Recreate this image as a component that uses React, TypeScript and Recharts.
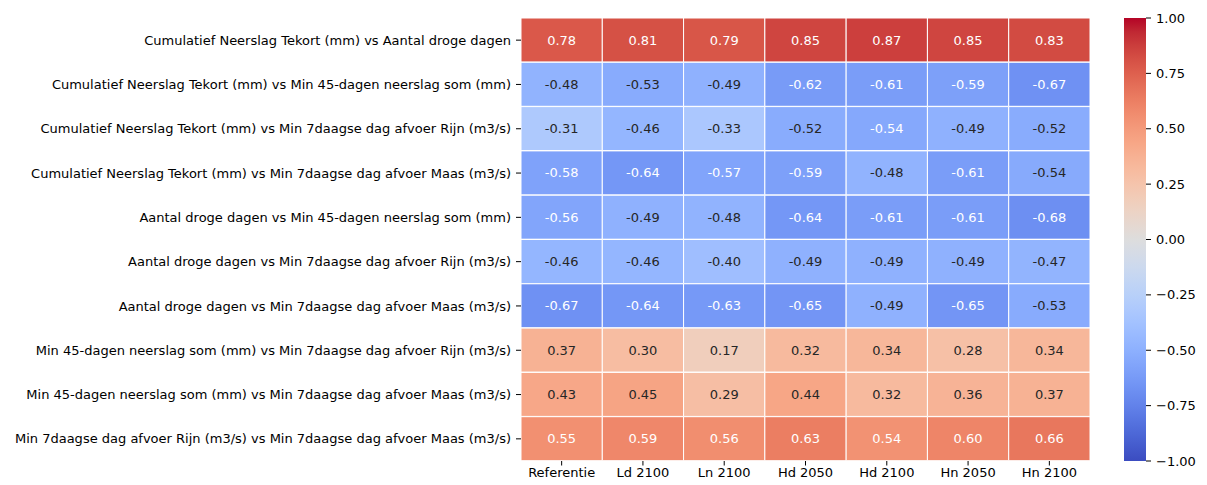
import React from "react";
import { BarChart, Bar, XAxis, YAxis, Cell, LabelList } from "recharts";

const rowLabels = [
  "Cumulatief Neerslag Tekort (mm) vs Aantal droge dagen",
  "Cumulatief Neerslag Tekort (mm) vs Min 45-dagen neerslag som (mm)",
  "Cumulatief Neerslag Tekort (mm) vs Min 7daagse dag afvoer Rijn (m3/s)",
  "Cumulatief Neerslag Tekort (mm) vs Min 7daagse dag afvoer Maas (m3/s)",
  "Aantal droge dagen vs Min 45-dagen neerslag som (mm)",
  "Aantal droge dagen vs Min 7daagse dag afvoer Rijn (m3/s)",
  "Aantal droge dagen vs Min 7daagse dag afvoer Maas (m3/s)",
  "Min 45-dagen neerslag som (mm) vs Min 7daagse dag afvoer Rijn (m3/s)",
  "Min 45-dagen neerslag som (mm) vs Min 7daagse dag afvoer Maas (m3/s)",
  "Min 7daagse dag afvoer Rijn (m3/s) vs Min 7daagse dag afvoer Maas (m3/s)",
];

const colLabels = ["Referentie", "Ld 2100", "Ln 2100", "Hd 2050", "Hd 2100", "Hn 2050", "Hn 2100"];

const referentie = [0.78, -0.48, -0.31, -0.58, -0.56, -0.46, -0.67, 0.37, 0.43, 0.55];
const ld2100 = [0.81, -0.53, -0.46, -0.64, -0.49, -0.46, -0.64, 0.3, 0.45, 0.59];
const ln2100 = [0.79, -0.49, -0.33, -0.57, -0.48, -0.4, -0.63, 0.17, 0.29, 0.56];
const hd2050 = [0.85, -0.62, -0.52, -0.59, -0.64, -0.49, -0.65, 0.32, 0.44, 0.63];
const hd2100 = [0.87, -0.61, -0.544, -0.48, -0.61, -0.49, -0.49, 0.34, 0.32, 0.54];
const hn2050 = [0.85, -0.59, -0.49, -0.61, -0.61, -0.49, -0.65, 0.28, 0.36, 0.6];
const hn2100 = [0.83, -0.67, -0.52, -0.535, -0.68, -0.47, -0.53, 0.34, 0.37, 0.66];

const columns = [referentie, ld2100, ln2100, hd2050, hd2100, hn2050, hn2100];

const colorbarTicks = [-1, -0.75, -0.5, -0.25, 0, 0.25, 0.5, 0.75, 1];

// coolwarm, 33 samples from s=0 to s=1
const coolwarm = [
  [59, 76, 192], [68, 90, 204], [77, 104, 215], [87, 117, 225], [98, 130, 234],
  [108, 142, 241], [119, 154, 247], [130, 165, 251], [141, 176, 254], [152, 185, 255],
  [163, 194, 255], [174, 201, 253], [184, 208, 249], [194, 213, 244], [204, 217, 238],
  [213, 219, 230], [221, 221, 221], [229, 216, 209], [236, 211, 197], [241, 204, 184],
  [245, 196, 172], [247, 187, 159], [247, 177, 147], [247, 166, 134], [244, 154, 123],
  [241, 141, 111], [236, 127, 99], [229, 112, 89], [222, 96, 78], [213, 80, 69],
  [203, 62, 60], [192, 40, 51], [180, 4, 38],
];

function rgbFor(v: number) {
  const s = Math.max(0, Math.min(1, (v + 1) / 2)) * 32;
  const i = Math.min(31, Math.floor(s));
  const t = s - i;
  const a = coolwarm[i];
  const b = coolwarm[i + 1];
  return [0, 1, 2].map((k) => a[k] + (b[k] - a[k]) * t);
}

function colorFor(v: number) {
  const [r, g, b] = rgbFor(v);
  return `rgb(${Math.round(r)},${Math.round(g)},${Math.round(b)})`;
}

function textColorFor(v: number) {
  const lin = (c: number) => {
    const x = c / 255;
    return x <= 0.03928 ? x / 12.92 : Math.pow((x + 0.055) / 1.055, 2.4);
  };
  const [r, g, b] = rgbFor(v);
  const lum = 0.2126 * lin(r) + 0.7152 * lin(g) + 0.0722 * lin(b);
  return lum > 0.408 ? "#262626" : "#ffffff";
}

const tableData = rowLabels.map((name, i) => {
  const row: Record<string, any> = { name };
  columns.forEach((col, j) => {
    row[`span${j}`] = 1;
    row[`val${j}`] = col[i];
  });
  return row;
});

const colorbarData = [{ name: "cb", span: [-1, 1] }];

const font = "'DejaVu Sans', sans-serif";
const fs = 13;
const fmtTick = (v: number) => v.toFixed(2).replace("-", "\u2212");

export default function App() {
  return (
    <div style={{ position: "absolute", left: 0, top: 0, width: 1207, height: 485, background: "#fff", fontFamily: font }}>
      <div style={{ position: "absolute", left: 0, top: 0 }}>
        <BarChart
          width={1100}
          height={485}
          data={tableData}
          layout="vertical"
          barCategoryGap={0}
          margin={{ top: 18, right: 10, bottom: 0, left: 0 }}
        >
          <XAxis
            type="number"
            domain={[0, 7]}
            ticks={[0.5, 1.5, 2.5, 3.5, 4.5, 5.5, 6.5]}
            interval={0}
            tickFormatter={(v: number) => colLabels[Math.floor(v)]}
            axisLine={false}
            tickLine={{ stroke: "#000" }}
            tickSize={4.5}
            tickMargin={2}
            height={24}
            tick={{ fontSize: fs, fill: "#000", fontFamily: font }}
          />
          <YAxis
            type="category"
            dataKey="name"
            width={521}
            interval={0}
            axisLine={false}
            tickLine={{ stroke: "#000" }}
            tickSize={5}
            tickMargin={5}
            tick={{ fontSize: fs, fill: "#000", fontFamily: font }}
          />
          {columns.map((col, j) => (
            <Bar
              key={j}
              dataKey={`span${j}`}
              stackId="grid"
              stroke="#fff"
              strokeWidth={1}
              isAnimationActive={false}
            >
              {col.map((v, i) => (
                <Cell key={i} fill={colorFor(v)} />
              ))}
              <LabelList
                dataKey={`val${j}`}
                content={(p: any) => {
                  const v = col[p.index];
                  return (
                    <text
                      x={p.x + p.width / 2}
                      y={p.y + p.height / 2}
                      textAnchor="middle"
                      dominantBaseline="central"
                      fontSize={fs}
                      fontFamily={font}
                      fill={textColorFor(v)}
                    >
                      {v.toFixed(2)}
                    </text>
                  );
                }}
              />
            </Bar>
          ))}
        </BarChart>
      </div>
      <div style={{ position: "absolute", left: 1100, top: 0 }}>
        <BarChart
          width={107}
          height={485}
          data={colorbarData}
          barCategoryGap={0}
          margin={{ top: 18, right: 0, bottom: 24, left: 24 }}
        >
          <defs>
            <linearGradient id="cw" x1="0" y1="1" x2="0" y2="0">
              {coolwarm.map((c, i) => (
                <stop key={i} offset={`${(i / 32) * 100}%`} stopColor={`rgb(${c[0]},${c[1]},${c[2]})`} />
              ))}
            </linearGradient>
          </defs>
          <XAxis dataKey="name" hide />
          <YAxis
            type="number"
            orientation="right"
            domain={[-1, 1]}
            ticks={colorbarTicks}
            interval={0}
            width={61}
            axisLine={false}
            tickLine={{ stroke: "#000" }}
            tickSize={5}
            tickMargin={5}
            tickFormatter={fmtTick}
            tick={{ fontSize: fs, fill: "#000", fontFamily: font }}
          />
          <Bar dataKey="span" fill="url(#cw)" isAnimationActive={false} />
        </BarChart>
      </div>
    </div>
  );
}
